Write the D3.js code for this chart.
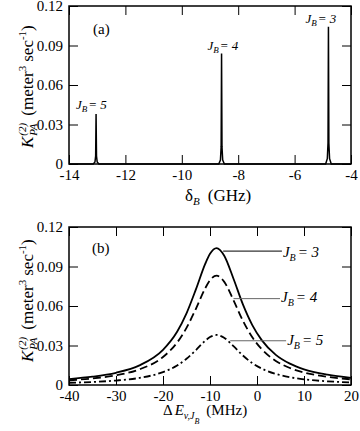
<!DOCTYPE html>
<html>
<head>
<meta charset="utf-8">
<script src="https://cdn.jsdelivr.net/npm/d3@7"></script>
<style>
  body { margin: 0; background: #fff; }
  svg { display: block; }
  text { font-family: "Liberation Serif", "DejaVu Serif", serif; fill: #000; }
</style>
</head>
<body>
<div id="chart"></div>
<script>
//Panel (a): narrow resonance spikes vs detuning (GHz)
const spikeJ5 = [[-13.14, 0], [-13.08, 0.0015], [-13.055, 0.006], [-13.04, 0.038], [-13.025, 0.006], [-13.0, 0.0015], [-12.94, 0]];
const spikeJ4 = [[-8.69, 0], [-8.63, 0.003], [-8.605, 0.013], [-8.59, 0.084], [-8.575, 0.013], [-8.55, 0.003], [-8.49, 0]];
const spikeJ3 = [[-4.90, 0], [-4.84, 0.004], [-4.815, 0.016], [-4.80, 0.1043], [-4.785, 0.016], [-4.76, 0.004], [-4.70, 0]];
const spikeNames = ["5", "4", "3"];
const xTicksA = [-14, -12, -10, -8, -6, -4];

//Panel (b): line shapes vs energy (MHz)
const dE = [-40, -35, -30, -25, -20, -17, -15, -13, -11, -10, -8.6, -7, -5, -3, -1, 1, 4, 7, 10, 15, 20];
const kJ3 = [0.0045, 0.0063, 0.0093, 0.0149, 0.0267, 0.0404, 0.0544, 0.0726, 0.0922, 0.0997, 0.104, 0.0984, 0.0807, 0.0612, 0.0455, 0.0341, 0.0229, 0.0162, 0.0119, 0.0078, 0.0054];
const kJ4 = [0.0036, 0.0050, 0.0074, 0.0119, 0.0213, 0.0322, 0.0434, 0.0579, 0.0736, 0.0796, 0.083, 0.0785, 0.0644, 0.0488, 0.0363, 0.0272, 0.0183, 0.0129, 0.0095, 0.0062, 0.0043];
const kJ5 = [0.0017, 0.0023, 0.0034, 0.0054, 0.0098, 0.0148, 0.0199, 0.0265, 0.0337, 0.0364, 0.038, 0.0359, 0.0295, 0.0224, 0.0166, 0.0125, 0.0084, 0.0059, 0.0043, 0.0028, 0.0020];
const xTicksB = [-40, -30, -20, -10, 0, 10, 20];
//leader lines for the labels, in data units
const leadX = [[-7.2, 5.3], [-5.0, 4.9], [-5.7, 6.2]];
const leadY = [0.1017, 0.0656, 0.0336];

const yTicks = [0, 0.03, 0.06, 0.09, 0.12];

//dimensions
const width = 360;
const height = 431;
const left = 69, right = 351, plotH = 158;
const topA = 6, topB = 227;

const svg = d3.select("#chart").append("svg").attr("width", width).attr("height", height);
svg.append("rect").attr("width", width).attr("height", height).attr("fill", "#fff");

function drawAxes(g, x, y, xTicks) {
    const style = sel => {
        sel.select(".domain").remove();
        sel.selectAll("line").attr("stroke", "#000").attr("stroke-width", 1);
        sel.selectAll("text").attr("font-size", 15).attr("fill", "#000");
        sel.attr("font-family", null).attr("font-size", null);
    };
    g.append("g").attr("transform", `translate(0,${plotH})`)
        .call(d3.axisBottom(x).tickValues(xTicks).tickSize(-9).tickPadding(5).tickFormat(d => String(d))).call(style);
    g.append("g").call(d3.axisTop(x).tickValues(xTicks).tickSize(-9).tickFormat("")).call(style);
    g.append("g").attr("transform", `translate(${left},0)`)
        .call(d3.axisLeft(y).tickValues(yTicks).tickSize(-9).tickPadding(6).tickFormat(d => d === 0 ? "0" : d.toFixed(2))).call(style);
    g.append("g").attr("transform", `translate(${right},0)`)
        .call(d3.axisRight(y).tickValues(yTicks).tickSize(-9).tickFormat("")).call(style);
    g.append("rect").attr("x", left).attr("y", 0).attr("width", right - left).attr("height", plotH)
        .attr("fill", "none").attr("stroke", "#000").attr("stroke-width", 1.5);
}

function yTitle(g, yStart) {
    const t = g.append("text").attr("transform", `translate(33,${yStart}) rotate(-90)`).attr("font-size", 17);
    t.append("tspan").attr("font-style", "italic").text("K");
    const sup = t.append("tspan").attr("font-style", "italic").attr("font-size", 11).attr("dx", 1).attr("dy", -7).text("(2)");
    const w = sup.node().getComputedTextLength();
    t.append("tspan").attr("font-style", "italic").attr("font-size", 11).attr("dx", -w).attr("dy", 11).text("PA");
    t.append("tspan").attr("dx", 8).attr("dy", -4).text("(meter");
    t.append("tspan").attr("font-size", 11).attr("dy", -7).text("3");
    t.append("tspan").attr("dx", 4).attr("dy", 7).text("sec");
    t.append("tspan").attr("font-size", 11).attr("dy", -7).text("-1");
    t.append("tspan").attr("dy", 7).text(")");
}

//Panel (a)
const gA = svg.append("g").attr("transform", `translate(0,${topA})`);
const xA = d3.scaleLinear().domain([-14, -4]).range([left, right]);
const yA = d3.scaleLinear().domain([0, 0.12]).range([plotH, 0]);
const traceA = [[-14, 0], ...spikeJ5, ...spikeJ4, ...spikeJ3, [-4, 0]];
gA.append("path").datum(traceA)
    .attr("d", d3.line().x(d => xA(d[0])).y(d => yA(d[1])))
    .attr("fill", "none").attr("stroke", "#000").attr("stroke-width", 1.5);
drawAxes(gA, xA, yA, xTicksA);
yTitle(svg, 148);

//labels above spikes
const labelDxA = [-20, -14, -23];
const labelDyA = [-4.5, -3.5, -3.5];
[spikeJ5, spikeJ4, spikeJ3].forEach((s, i) => {
    const peak = s[3];
    const t = gA.append("text").attr("x", xA(peak[0]) + labelDxA[i]).attr("y", yA(peak[1]) + labelDyA[i])
        .attr("font-size", 13).attr("font-style", "italic");
    t.append("tspan").text("J");
    t.append("tspan").attr("font-size", 9).attr("dy", 3).text("B");
    t.append("tspan").attr("dx", 1).attr("dy", -3).text("= " + spikeNames[i]);
});
gA.append("text").attr("x", 93).attr("y", 28).attr("font-size", 15).text("(a)");

const tA = svg.append("text").attr("x", 185).attr("y", 201).attr("font-size", 17);
tA.append("tspan").text("δ");
tA.append("tspan").attr("font-style", "italic").attr("font-size", 11).attr("dy", 4).text("B");
tA.append("tspan").attr("dx", 8).attr("dy", -4).text("(GHz)");

//Panel (b)
const gB = svg.append("g").attr("transform", `translate(0,${topB})`);
const xB = d3.scaleLinear().domain([-40, 20]).range([left, right]);
const yB = d3.scaleLinear().domain([0, 0.12]).range([plotH, 0]);
const lineB = d3.line().x((d, i) => xB(dE[i])).y(d => yB(d)).curve(d3.curveMonotoneX);
const seriesB = [kJ3, kJ4, kJ5];
const dashB = [null, "8,4", "7,3,2,3"];
seriesB.forEach((s, i) => {
    gB.append("path").datum(s).attr("d", lineB)
        .attr("fill", "none").attr("stroke", "#000").attr("stroke-width", 1.8)
        .attr("stroke-dasharray", dashB[i]);
});
drawAxes(gB, xB, yB, xTicksB);
yTitle(svg, 362);

const leadColor = ["#000", "#666", "#666"];
const labelDyB = [6, 3, 4];
leadX.forEach((lx, i) => {
    gB.append("line").attr("x1", xB(lx[0])).attr("x2", xB(lx[1])).attr("y1", yB(leadY[i])).attr("y2", yB(leadY[i]))
        .attr("stroke", leadColor[i]).attr("stroke-width", 1);
    const t = gB.append("text").attr("x", xB(lx[1]) + 1).attr("y", yB(leadY[i]) + labelDyB[i])
        .attr("font-size", 15).attr("font-style", "italic");
    t.append("tspan").text("J");
    t.append("tspan").attr("font-size", 10).attr("dy", 4).text("B");
    t.append("tspan").attr("dx", 2).attr("dy", -4).text("= " + spikeNames[2 - i]);
});
gB.append("text").attr("x", 92).attr("y", 26).attr("font-size", 15).text("(b)");

const tB = svg.append("text").attr("x", 163).attr("y", 415).attr("font-size", 15);
tB.append("tspan").text("Δ");
tB.append("tspan").attr("dx", 2).attr("font-style", "italic").text("E");
tB.append("tspan").attr("font-style", "italic").attr("font-size", 10).attr("dy", 4).text("v,J");
tB.append("tspan").attr("font-style", "italic").attr("font-size", 8).attr("dy", 5).text("B");
tB.append("tspan").attr("dx", 7).attr("dy", -9).text("(MHz)");
</script>
</body>
</html>
